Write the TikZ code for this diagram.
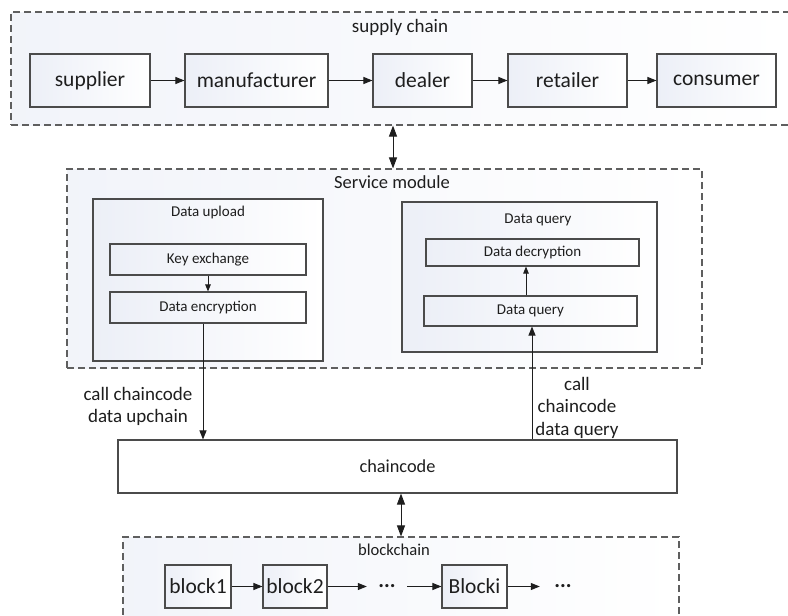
\documentclass[tikz,border=0pt]{standalone}
\usepackage{fontspec}
\setmainfont{Carlito}
\usetikzlibrary{arrows.meta}
\definecolor{edge}{RGB}{75,75,75}
\definecolor{dashc}{RGB}{95,95,95}
\definecolor{tint}{RGB}{236,239,247}
\definecolor{ink}{RGB}{30,30,30}
\newcommand{\fs}[1]{\fontsize{#1}{#1}\selectfont}

\begin{document}
\begin{tikzpicture}[x=1pt,y=-1pt,
  box/.style={draw=edge, line width=1.1pt, left color=tint, right color=white,
              inner sep=0pt, text=ink},
  group/.style={draw=dashc, line width=1.1pt, dash pattern=on 7pt off 4pt,
                left color=tint!70!white, right color=white, inner sep=0pt},
  label/.style={text=ink, inner sep=0pt, align=center},
  arr/.style={draw=ink, line width=1pt, -{Triangle[length=9pt,width=7pt]}},
  arrsm/.style={draw=ink, line width=0.9pt, -{Triangle[length=7pt,width=5.5pt]}},
  dbl/.style={draw=ink, line width=1pt,
              {Triangle[length=11pt,width=8pt]}-{Triangle[length=11pt,width=8pt]}},
  bigtext/.style={font=\fs{21.5}},
  smalltext/.style={font=\fs{15}}
]
\useasboundingbox (0,0) rectangle (788,616);
\clip (0,0) rectangle (788,616);
\fill[white] (0,0) rectangle (788,616);

% ---------- supply chain ----------
\node[group, minimum width=784pt, minimum height=113pt] (sc) at (403,68.5) {};
\node[label, font=\fs{19}] (sctitle) at (400,27) {supply chain};
\node[box, bigtext, minimum width=120pt, minimum height=53pt] (sup) at (90,80.5) {supplier};
\node[box, bigtext, minimum width=143pt, minimum height=53pt] (man) at (256.5,80.5) {manufacturer};
\node[box, bigtext, minimum width=99pt,  minimum height=53pt] (dea) at (422.5,80.5) {dealer};
\node[box, bigtext, minimum width=119pt, minimum height=53pt] (ret) at (567.5,80.5) {retailer};
\node[box, bigtext, minimum width=119pt, minimum height=53pt] (con) at (716.5,80.5) {consumer};
\draw[arr] (sup.east) -- (man.west);
\draw[arr] (man.east) -- (dea.west);
\draw[arr] (dea.east) -- (ret.west);
\draw[arr] (ret.east) -- (con.west);

% ---------- service module ----------
\node[group, minimum width=635pt, minimum height=199pt] (sm) at (384.5,268.5) {};
\node[label, font=\fs{18.5}] (smtitle) at (392,182) {Service module};

\node[box, minimum width=230pt, minimum height=162pt] (up) at (208,280) {};
\node[label, smalltext] (uptitle) at (208,212) {Data upload};
\node[box, smalltext, minimum width=196pt, minimum height=31pt] (key) at (208,259.5) {Key exchange};
\node[box, smalltext, minimum width=196pt, minimum height=31pt] (enc) at (208,307.5) {Data encryption};

\node[box, minimum width=255pt, minimum height=150pt] (dq) at (529.5,277) {};
\node[label, smalltext] (dqtitle) at (538,220) {Data query};
\node[box, smalltext, minimum width=213pt, minimum height=27pt] (dec) at (532.5,252.5) {Data decryption};
\node[box, smalltext, minimum width=213pt, minimum height=30pt] (dqi) at (530.5,311) {Data query};

\draw[arrsm] (key.south) -- (enc.north);
\coordinate (dx) at (526,0);
\draw[arrsm] (dqi.north -| dx) -- (dec.south -| dx);

% ---------- chaincode ----------
\node[box, font=\fs{18.3}, minimum width=559pt, minimum height=53pt,
      left color=white] (chain) at (397.5,466.5) {chaincode};

\coordinate (upx) at (203,0);
\coordinate (qx) at (532,0);
\draw[arr] (enc.south -| upx) -- (chain.north -| upx);
\draw[arr] (chain.north -| qx) -- (dqi.south -| qx);
\node[label, font=\fs{19}, align=center] (uplbl) at (138,406)
  {call chaincode\\[3pt]data upchain};
\node[label, font=\fs{19}, align=center] (qlbl) at (577,407.5)
  {call\\[3.5pt]chaincode\\[3.5pt]data query};

\coordinate (ax) at (393,0);
\draw[dbl] (sc.south -| ax) -- (sm.north -| ax);

% ---------- blockchain ----------
\node[group, minimum width=556pt, minimum height=93pt] (bc) at (401,583.5) {};
\node[label, font=\fs{16.6}] (bctitle) at (394,550) {blockchain};
\node[box, bigtext, minimum width=66pt, minimum height=43pt] (b1) at (198,586.5) {block1};
\node[box, bigtext, minimum width=64pt, minimum height=43pt] (b2) at (295,586.5) {block2};
\node[label, bigtext, minimum width=40pt, minimum height=20pt] (d1) at (387,586.5) {\textbf{...}};
\node[box, bigtext, minimum width=65pt, minimum height=43pt] (bi) at (474.5,586.5) {Blocki};
\node[label, bigtext, minimum width=46pt, minimum height=20pt] (d2) at (563,586.5) {\textbf{...}};
\draw[arr] (b1.east) -- (b2.west);
\draw[arr] (b2.east) -- (d1.west);
\draw[arr] (d1.east) -- (bi.west);
\draw[arr] (bi.east) -- (d2.west);

\coordinate (bx) at (401,0);
\draw[dbl] (chain.south -| bx) -- (bc.north -| bx);
\end{tikzpicture}
\end{document}
